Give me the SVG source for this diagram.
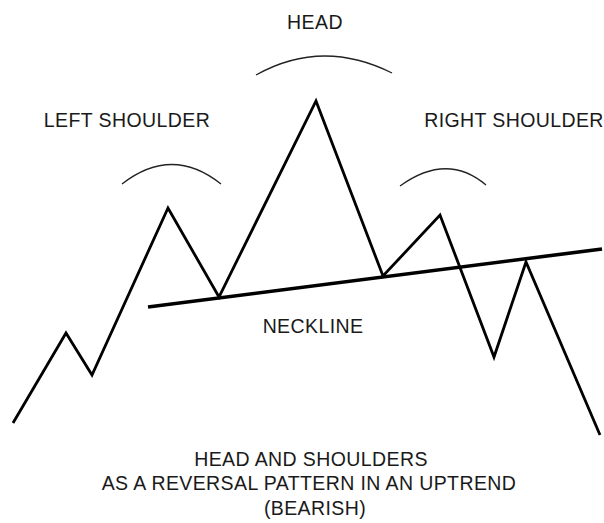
<svg xmlns="http://www.w3.org/2000/svg" width="604" height="523" viewBox="0 0 604 523">
<style>
.t{font-family:"Liberation Sans",Arial,sans-serif;font-size:19.5px;letter-spacing:0.4px;fill:#1a1a1a;text-anchor:middle}
.arc{fill:none;stroke:#222;stroke-width:1.3}
.price{fill:none;stroke:#000;stroke-width:2.8;stroke-linejoin:miter}
.neck{stroke:#000;stroke-width:3.6}
</style>
<rect width="604" height="523" fill="#fff"/>
<g id="connectors">
<polyline class="price" points="13,423 66,333 92,375 168,208 219,297 316,101 383,276 440,215 494,357 526,262 600,435"/>
<line class="neck" x1="148" y1="307" x2="602" y2="249"/>
</g>
<g id="head">
<path class="arc" d="M256,75 Q322,38 392,73"/>
<text class="t" x="315" y="29">HEAD</text>
</g>
<g id="left-shoulder">
<path class="arc" d="M122,184 Q172,145 221,184"/>
<text class="t" x="127" y="127">LEFT SHOULDER</text>
</g>
<g id="right-shoulder">
<path class="arc" d="M400,186 Q447,152 486,185"/>
<text class="t" x="514" y="127">RIGHT SHOULDER</text>
</g>
<g id="neckline">
<text class="t" x="313" y="333">NECKLINE</text>
</g>
<g id="caption">
<text class="t" x="311" y="466">HEAD AND SHOULDERS</text>
<text class="t" x="309" y="490">AS A REVERSAL PATTERN IN AN UPTREND</text>
<text class="t" x="315" y="515">(BEARISH)</text>
</g>
</svg>
